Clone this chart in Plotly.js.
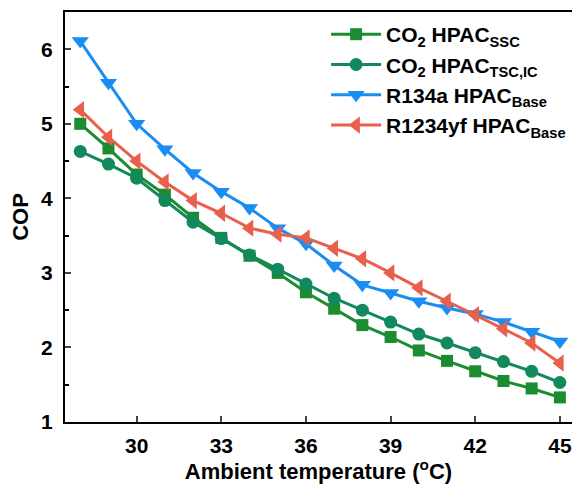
<!DOCTYPE html>
<html>
<head>
<meta charset="utf-8">
<script src="https://cdn.plot.ly/plotly-3.0.1.min.js"></script>
<style>html,body{margin:0;padding:0;background:#fff;}#chart{width:572px;height:484px;}</style>
</head>
<body>
<div id="chart"></div>
<script>
var temps = [28,29,30,31,32,33,34,35,36,37,38,39,40,41,42,43,44,45];
var co2SSC   = [5.00,4.67,4.32,4.05,3.74,3.47,3.23,3.00,2.74,2.52,2.30,2.14,1.96,1.82,1.68,1.55,1.45,1.33];
var co2TSCIC = [4.63,4.46,4.27,3.97,3.68,3.46,3.24,3.05,2.85,2.66,2.50,2.34,2.18,2.06,1.93,1.81,1.68,1.53];
var r134a    = [6.11,5.55,5.00,4.66,4.34,4.09,3.87,3.60,3.39,3.10,2.84,2.73,2.62,2.53,2.45,2.34,2.21,2.08];
var r1234yf  = [5.19,4.82,4.50,4.22,3.97,3.80,3.60,3.52,3.47,3.33,3.19,3.00,2.80,2.62,2.44,2.25,2.06,1.79];
var seriesNames = ['CO<sub>2</sub> HPAC<sub>SSC</sub>','CO<sub>2</sub> HPAC<sub>TSC,IC</sub>','R134a HPAC<sub>Base</sub>','R1234yf HPAC<sub>Base</sub>'];
var xTicks = [30,33,36,39,42,45];
var yTicks = [1,2,3,4,5,6];

function tr(y, name, color, symbol, size, grp){
  return {x: temps, y: y, name: name, type:'scatter', mode:'lines+markers', legendgroup:grp,
    line:{color:color, width:3}, marker:{color:color, symbol:symbol, size:size}};
}
var data = [
  tr(co2SSC, seriesNames[0], '#1b8c2f', 'square', 12, 'a'),
  tr(co2TSCIC, seriesNames[1], '#11895b', 'circle', 13, 'b'),
  tr(r134a, seriesNames[2], '#1b8df2', 'triangle-down', 15, 'c'),
  tr(r1234yf, seriesNames[3], '#e8604c', 'triangle-left', 15, 'd')
];
var fam = 'Liberation Sans, Arial, sans-serif';
var tickFont = {family:fam, size:21, color:'#000', weight:'bold'};
var titleFont = {family:fam, size:22, color:'#000', weight:'bold'};
var layout = {
  width:572, height:484,
  margin:{l:65, r:0, t:12, b:62},
  paper_bgcolor:'#fff', plot_bgcolor:'#fff',
  font: tickFont,
  showlegend:true,
  legend:{x:0.515, y:0.995, xanchor:'left', yanchor:'top', bgcolor:'rgba(0,0,0,0)',
    font:{family:fam, size:21, color:'#000', weight:'bold'}, tracegroupgap:0, itemwidth:50},
  xaxis:{range:[27.46,45.43], tickvals:xTicks, ticktext:xTicks.map(String), ticks:'inside', ticklen:6, tickwidth:2,
    showline:true, linewidth:2, linecolor:'#000', mirror:true, showgrid:false, zeroline:false,
    tickfont:tickFont, ticklabelstandoff:4, title:{text:'Ambient temperature (<sup>o</sup>C)', font:titleFont, standoff:6}},
  yaxis:{range:[1,6.5], tickvals:yTicks, ticktext:yTicks.map(String), ticks:'inside', ticklen:6, tickwidth:2,
    minor:{dtick:0.5, ticks:'inside', ticklen:4, tickwidth:2, tickcolor:'#000', showgrid:false},
    showline:true, linewidth:2, linecolor:'#000', mirror:true, showgrid:false, zeroline:false,
    tickfont:tickFont, ticklabelstandoff:6, title:{text:'COP', font:titleFont, standoff:6}}
};
Plotly.newPlot('chart', data, layout, {displayModeBar:false, staticPlot:true});
</script>
</body>
</html>
